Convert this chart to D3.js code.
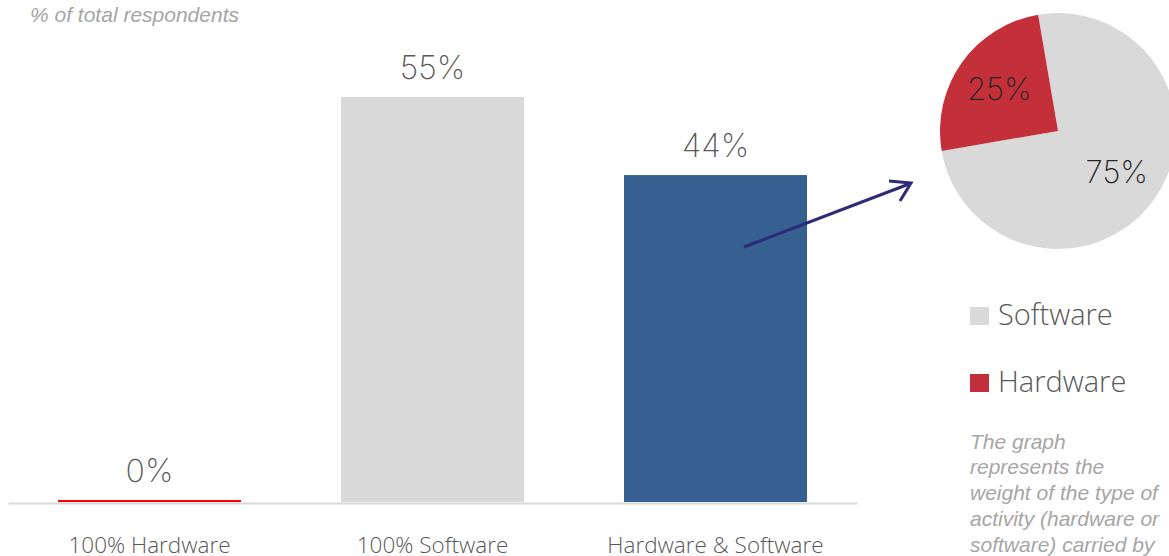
<!DOCTYPE html>
<html><head><meta charset="utf-8">
<script src="https://cdn.jsdelivr.net/npm/d3@7"></script>
<style>
html,body{margin:0;padding:0;background:#fff;overflow:hidden;}
svg{display:block;}
</style></head>
<body>
<svg id="chart" width="1169" height="556"></svg>
<script>
const categories = ["100% Hardware", "100% Software", "Hardware & Software"];
const barValues = [0, 55, 44.4];
const barLabels = ["0%", "55%", "44%"];
const barColors = ["#ff0000", "#d9d9d9", "#36608f"];
const pieNames = ["Software", "Hardware"];
const pieValues = [75, 25];
const pieLabels = ["75%", "25%"];
const pieColors = ["#d9d9d9", "#c3303a"];
const titleText = "% of total respondents";
const noteLines = ["The graph", "represents the", "weight of the type of", "activity (hardware or", "software) carried by"];

const svg = d3.select("#chart");
const thin = "Inter, 'Open Sans', sans-serif";
const ui = "'Open Sans', 'Noto Sans', sans-serif";
const arial = "'Liberation Sans', Arial, sans-serif";

svg.append("text").attr("x", 30).attr("y", 22)
  .attr("font-family", arial)
  .attr("font-style", "italic").attr("font-weight", "normal")
  .attr("font-size", 21).attr("fill", "#a6a6a6").text(titleText);

const baseY = 502;
const x = d3.scaleBand().domain(categories).range([8, 857])
  .paddingInner(100 / 283).paddingOuter(50 / 283);
const y = d3.scaleLinear().domain([0, 55]).range([baseY, 97]);

// axis
const xAxis = d3.axisBottom(x).tickSize(0).tickPadding(0);
const ax = svg.append("g").attr("transform", `translate(0,${baseY + 1})`).call(xAxis);
ax.select(".domain").attr("stroke", "#d9d9d9").attr("stroke-width", 2);
ax.selectAll("text").attr("dy", null).attr("y", 50)
  .attr("font-family", ui).attr("font-weight", 300)
  .attr("font-size", 22.5).attr("fill", "#595959");

// bars
svg.append("g").selectAll("rect").data(barValues).join("rect")
  .attr("x", (d, i) => x(categories[i]))
  .attr("width", x.bandwidth())
  .attr("y", (d) => d === 0 ? baseY - 2 : y(d))
  .attr("height", (d) => d === 0 ? 2 : baseY - y(d))
  .attr("fill", (d, i) => barColors[i]);

svg.append("g").selectAll("text").data(barValues).join("text")
  .attr("x", (d, i) => x(categories[i]) + x.bandwidth() / 2)
  .attr("y", (d) => (d === 0 ? baseY - 2 : y(d)) - 18)
  .attr("text-anchor", "middle")
  .attr("font-family", thin).attr("font-weight", 200)
  .attr("font-size", 32).attr("fill", "#595959")
  .text((d, i) => barLabels[i]);

// arrow
const arrowColor = "#2e2a7a";
svg.append("path").attr("d", d3.line()([[744, 247], [909, 184]]))
  .attr("stroke", arrowColor).attr("stroke-width", 3).attr("fill", "none");
svg.append("path").attr("d", d3.line()([[889, 181], [911, 183], [900, 201]]))
  .attr("stroke", arrowColor).attr("stroke-width", 3).attr("fill", "none")
  .attr("stroke-linejoin", "miter");

// pie
const cx = 1058, cy = 131, R = 118;
const a0 = -9.7 * Math.PI / 180;
const pie = d3.pie().sort(null).startAngle(a0).endAngle(a0 + 2 * Math.PI);
const arcs = pie(pieValues);
const arc = d3.arc().innerRadius(0).outerRadius(R);
const pg = svg.append("g").attr("transform", `translate(${cx},${cy})`);
pg.selectAll("path").data(arcs).join("path").attr("d", arc)
  .attr("fill", (d, i) => pieColors[i]);
const labelArc = d3.arc().innerRadius(R * 0.61).outerRadius(R * 0.61);
pg.selectAll("text").data(arcs).join("text")
  .attr("transform", (d) => {
    const c = labelArc.centroid(d);
    return `translate(${c[0]},${c[1]})`;
  })
  .attr("dy", "0.35em").attr("text-anchor", "middle")
  .attr("font-family", thin).attr("font-weight", 200)
  .attr("font-size", 31).attr("fill", "#262626")
  .text((d, i) => pieLabels[i]);

// legend
const lg = svg.append("g");
pieNames.forEach((n, i) => {
  const ly = 307 + i * 67;
  lg.append("rect").attr("x", 970).attr("y", ly).attr("width", 19).attr("height", 18)
    .attr("fill", pieColors[i]);
  lg.append("text").attr("x", 998).attr("y", ly + 18)
    .attr("font-family", ui).attr("font-weight", 300)
    .attr("font-size", 29).attr("fill", "#595959").text(n);
});

// note
svg.append("g").selectAll("text").data(noteLines).join("text")
  .attr("x", 970).attr("y", (d, i) => 448.5 + i * 25.8)
  .attr("font-family", arial)
  .attr("font-style", "italic").attr("font-size", 21)
  .attr("fill", "#a6a6a6").text((d) => d);
</script>
</body></html>
